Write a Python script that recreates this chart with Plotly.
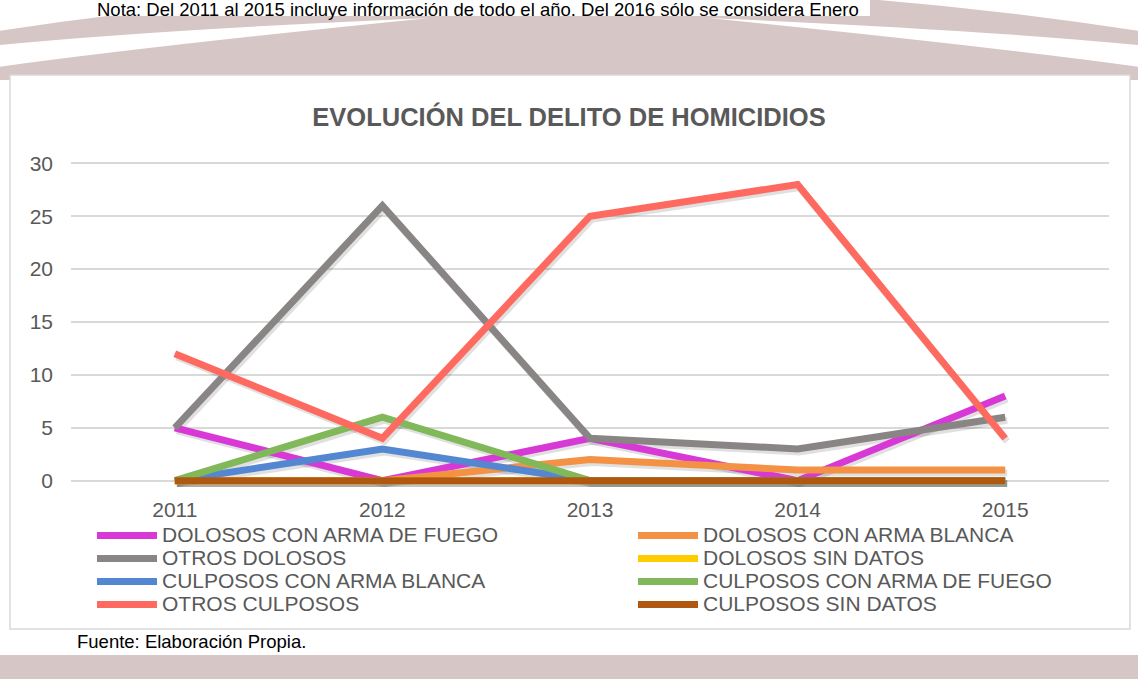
import plotly.graph_objects as go

# ---- data ----
years = ["2011", "2012", "2013", "2014", "2015"]

dolosos_arma_fuego = [5, 0, 4, 0, 8]
dolosos_arma_blanca = [0, 0, 2, 1, 1]
otros_dolosos = [5, 26, 4, 3, 6]
dolosos_sin_datos = [0, 0, 0, 0, 0]
culposos_arma_blanca = [0, 3, 0, 0, 0]
culposos_arma_fuego = [0, 6, 0, 0, 0]
otros_culposos = [12, 4, 25, 28, 4]
culposos_sin_datos = [0, 0, 0, 0, 0]

y_ticks = [0, 5, 10, 15, 20, 25, 30]

series = [
    ("DOLOSOS CON ARMA DE FUEGO", dolosos_arma_fuego, "#D838D6", "legend"),
    ("DOLOSOS CON ARMA BLANCA", dolosos_arma_blanca, "#F39244", "legend2"),
    ("OTROS DOLOSOS", otros_dolosos, "#8A8585", "legend"),
    ("DOLOSOS SIN DATOS", dolosos_sin_datos, "#FFCC00", "legend2"),
    ("CULPOSOS CON ARMA BLANCA", culposos_arma_blanca, "#5487D2", "legend"),
    ("CULPOSOS CON ARMA DE FUEGO", culposos_arma_fuego, "#80B85A", "legend2"),
    ("OTROS CULPOSOS", otros_culposos, "#FF6A60", "legend"),
    ("CULPOSOS SIN DATOS", culposos_sin_datos, "#B0580F", "legend2"),
]

# ---- page geometry (pixels) ----
W, H = 1138, 679
PL, PR, PT, PB = 71, 1109, 157, 487
YR = [-0.6, 30.6]
XR = [-0.5, 4.5]
PINK = "#D7C6C6"
TXT = "#595959"
NARROW = "Liberation Sans Narrow, Arial Narrow, sans-serif"


def px(x):
    return (x - PL) / (PR - PL)


def py(y):
    return (PB - y) / (PB - PT)


def path(cmds):
    out = []
    for c in cmds:
        if isinstance(c, str):
            out.append(c)
        else:
            out.append(f"{px(c[0]):.5f},{py(c[1]):.5f}")
    return " ".join(out)


# shadow offset (2px right, 3px down): shadows live on x/y, lines on the overlay x2/y2
sx = 2 / (PR - PL) * (XR[1] - XR[0])
sy = 3 / (PB - PT) * (YR[1] - YR[0])

fig = go.Figure()

for name, vals, color, lg in series:
    fig.add_trace(
        go.Scatter(
            x=years, y=vals, mode="lines", xaxis="x", yaxis="y",
            line=dict(color="rgba(0,0,0,0.12)", width=7),
            showlegend=False, hoverinfo="skip",
        )
    )

for name, vals, color, lg in series:
    fig.add_trace(
        go.Scatter(
            x=years, y=vals, mode="lines", xaxis="x2", yaxis="y2",
            name=f'<span style="font-size:21px">{name}</span>', legend=lg,
            line=dict(color=color, width=7),
        )
    )

shapes = [
    # top decorative band
    dict(type="path", path=path(["M", (-20, 34), "Q", (569, -60), (1158, 34), "L", (1158, 80), "L", (-20, 80), "Z"]),
         fillcolor=PINK, line=dict(width=0)),
    dict(type="path", path=path(["M", (-10, 46), "Q", (150, 30), (430, 18), "Q", (150, 46), (-10, 68), "Z"]),
         fillcolor="white", line=dict(width=0)),
    dict(type="path", path=path(["M", (1148, 46), "Q", (988, 30), (708, 18), "Q", (988, 46), (1148, 68), "Z"]),
         fillcolor="white", line=dict(width=0)),
    dict(type="rect", x0=px(0), x1=px(870), y0=py(0), y1=py(16), fillcolor="white", line=dict(width=0)),
    # bottom band
    dict(type="rect", x0=px(-5), x1=px(1145), y0=py(655), y1=py(685), fillcolor=PINK, line=dict(width=0)),
    # chart box
    dict(type="rect", x0=px(10), x1=px(1130), y0=py(75), y1=py(629), fillcolor="white",
         line=dict(color="#D9D9D9", width=1.5)),
]
for s in shapes:
    s.update(xref="paper", yref="paper", layer="below")

legend_style = dict(
    yanchor="top", xanchor="left", orientation="v", itemwidth=60,
    font=dict(size=15.4, color=TXT), bgcolor="rgba(0,0,0,0)", tracegroupgap=0,
)

fig.update_layout(
    width=W, height=H,
    margin=dict(l=PL, r=W - PR, t=PT, b=H - PB),
    paper_bgcolor="white",
    plot_bgcolor="rgba(0,0,0,0)",
    font=dict(family="Liberation Sans, Arial, sans-serif", color=TXT),
    title=dict(
        text="<b>EVOLUCIÓN DEL DELITO DE HOMICIDIOS</b>",
        font=dict(size=25.5, color=TXT),
        x=0.5, xref="container", xanchor="center",
        y=1 - 117 / H, yref="container", yanchor="middle",
    ),
    xaxis=dict(type="category", categoryarray=years, range=[XR[0] - sx, XR[1] - sx], visible=False),
    yaxis=dict(range=[YR[0] + sy, YR[1] + sy], visible=False),
    xaxis2=dict(
        type="category", categoryarray=years, range=XR, overlaying="x", side="bottom",
        showgrid=False, showline=False, zeroline=False, ticks="",
        tickfont=dict(size=21, color=TXT), ticklabelstandoff=8,
    ),
    yaxis2=dict(
        range=YR, tickvals=y_ticks, overlaying="y", side="left",
        showgrid=True, gridcolor="#D9D9D9", gridwidth=1.5,
        zeroline=False, showline=False, ticks="", tickfont=dict(size=21, color=TXT),
        ticklabelstandoff=17,
    ),
    legend=dict(x=px(92), y=py(519), **legend_style),
    legend2=dict(x=px(633), y=py(519), **legend_style),
    shapes=shapes,
    annotations=[
        dict(text="Nota: Del 2011 al 2015 incluye información de todo el año. Del 2016 sólo se considera Enero",
             x=px(95), y=py(10), xref="paper", yref="paper", xanchor="left", yanchor="middle",
             showarrow=False, font=dict(family=NARROW, size=18.5, color="black")),
        dict(text="Fuente: Elaboración Propia.",
             x=px(75), y=py(641), xref="paper", yref="paper", xanchor="left", yanchor="middle",
             showarrow=False, font=dict(family=NARROW, size=18.5, color="black")),
    ],
    showlegend=True,
)

# browser default body margin would shift the figure by 8px
fig.write_html("out.html", config={"displayModeBar": False},
               post_script="document.body.style.margin='0';")
